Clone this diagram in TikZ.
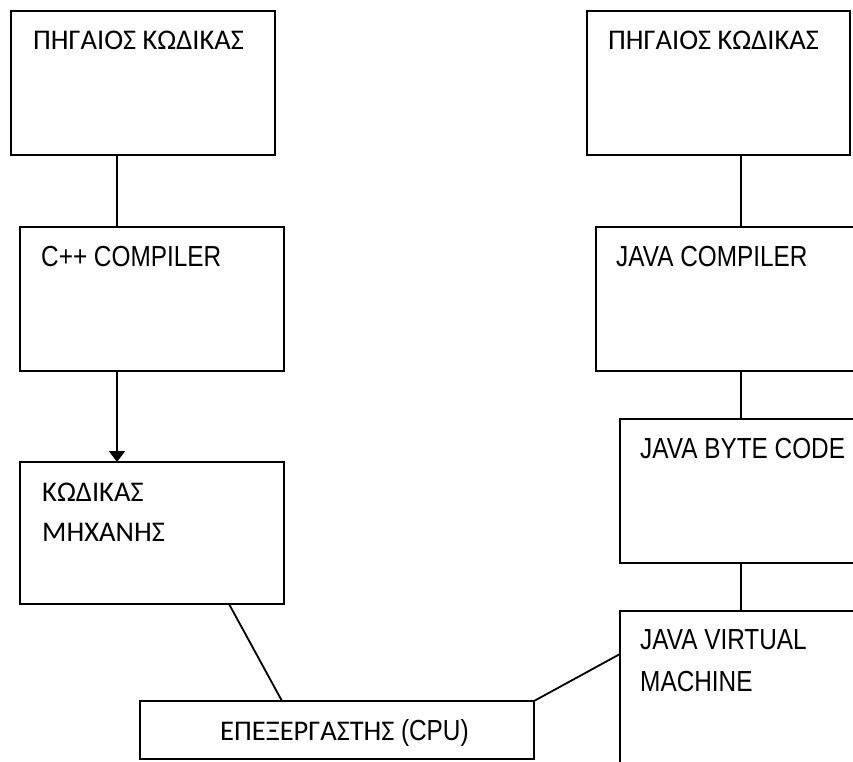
\documentclass[tikz,border=0pt]{standalone}
\usepackage{fontspec}
\setmainfont{Carlito}
\newfontfamily\grk{Carlito}
\newfontfamily\nar[FakeStretch=0.84]{Liberation Sans}
\usetikzlibrary{arrows.meta}
\tikzset{
  box/.style={draw=black, line width=1.8pt, fill=white, anchor=north west, inner sep=0pt, outer sep=0pt},
  lbl/.style={anchor=base west, inner sep=0pt, font=\fontsize{28.5}{30}\selectfont\grk},
  nlbl/.style={anchor=base west, inner sep=0pt, font=\fontsize{29}{31}\selectfont\nar},
  con/.style={draw=black, line width=1.8pt}
}
\begin{document}
\begin{tikzpicture}[x=1pt,y=-1pt]
\useasboundingbox (0,0) rectangle (853,762);
\fill[white] (0,0) rectangle (853,762);
\clip (0,0) rectangle (853,762);
% boxes
\node[box, minimum width=264pt, minimum height=144pt] (src1) at (11,11) {};
\node[box, minimum width=263pt, minimum height=144pt] (src2) at (587,11) {};
\node[box, minimum width=264pt, minimum height=144pt] (cpp) at (20,227) {};
\node[box, minimum width=264pt, minimum height=144pt] (jc) at (596,227) {};
\node[box, minimum width=264pt, minimum height=142pt] (mc) at (20,462) {};
\node[box, minimum width=264pt, minimum height=144pt] (jbc) at (620,419) {};
\node[box, minimum width=264pt, minimum height=170pt] (jvm) at (620,611) {};
\node[box, minimum width=394pt, minimum height=58pt] (cpu) at (140,701) {};
% connector x positions
\coordinate (lx) at (117,0);
\coordinate (rx) at (741,0);
\coordinate (mcout) at (229,604);
\coordinate (cpuin) at (282,701);
\coordinate (jvmin) at (620,654);
% connectors
\draw[con] (src1.south -| lx) -- (cpp.north -| lx);
\draw[con, -{Triangle[length=11pt,width=16pt]}] (cpp.south -| lx) -- (mc.north -| lx);
\draw[con] (src2.south -| rx) -- (jc.north -| rx);
\draw[con] (jc.south -| rx) -- (jbc.north -| rx);
\draw[con] (jbc.south -| rx) -- (jvm.north -| rx);
\draw[con] (mcout) -- (cpuin);
\draw[con] (cpu.north east) -- (jvmin);
% labels
\node[lbl] (t1) at (33,50) {ΠΗΓΑΙΟΣ ΚΩΔΙΚΑΣ};
\node[lbl] (t2) at (608,50) {ΠΗΓΑΙΟΣ ΚΩΔΙΚΑΣ};
\node[nlbl] (t3) at (41,266) {C++ COMPILER};
\node[nlbl] (t4) at (616,266) {JAVA COMPILER};
\node[lbl] (t5) at (42,501) {ΚΩΔΙΚΑΣ};
\node[lbl] (t6) at (42,541) {ΜΗΧΑΝΗΣ};
\node[nlbl] (t7) at (640,458) {JAVA BYTE CODE};
\node[nlbl] (t8) at (640,649) {JAVA VIRTUAL};
\node[nlbl] (t9) at (640,691) {MACHINE};
\node[lbl] (t10) at (220,740) {ΕΠΕΞΕΡΓΑΣΤΗΣ {\fontsize{29}{31}\selectfont\nar (CPU)}};
\end{tikzpicture}
\end{document}
